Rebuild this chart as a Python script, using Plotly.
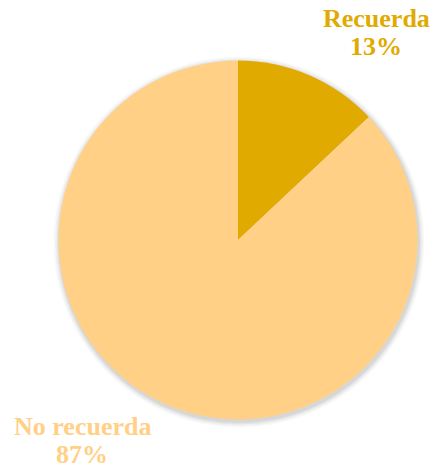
import plotly.graph_objects as go

# Share of respondents who remember / do not remember
labels = ["Recuerda", "No recuerda"]
values = [13, 87]
colors = ["#E0AA00", "#FFD086"]

W, H = 432, 470
cx, cy, r = 238, 240, 179.5  # pie centre and radius in pixels

fig = go.Figure(
    go.Pie(
        labels=labels,
        values=values,
        marker=dict(colors=colors, line=dict(width=0)),
        sort=False,
        direction="clockwise",
        rotation=0,
        textinfo="none",
        hoverinfo="label+percent",
        showlegend=False,
        domain=dict(
            x=[(cx - r) / W, (cx + r) / W],
            y=[(H - cy - r) / H, (H - cy + r) / H],
        ),
    )
)

# soft shadow around the disc
shapes = []
for grow, op in [(6, 0.025), (4.5, 0.035), (3, 0.045), (1.5, 0.06)]:
    dx, dy = 1, 2
    shapes.append(dict(
        type="circle", xref="paper", yref="paper", layer="below",
        x0=(cx + dx - r - grow) / W, x1=(cx + dx + r + grow) / W,
        y0=(H - cy - dy - r - grow) / H, y1=(H - cy - dy + r + grow) / H,
        fillcolor=f"rgba(0,0,0,{op})", line=dict(width=0),
    ))

total = sum(values)
label_pos = [(376, 29), (82, 437)]  # centre x, first-line baseline y
annotations = []
for lab, val, col, (lx, ly) in zip(labels, values, colors, label_pos):
    pct = round(100 * val / total)
    for k, line in enumerate([lab, f"{pct}%"]):
        annotations.append(dict(
            text=f"<b>{line}</b>", x=lx / W, y=(H - (ly + 28 * k)) / H,
            xref="paper", yref="paper", xanchor="center", yanchor="bottom",
            yshift=-6, showarrow=False,
            font=dict(family="Liberation Serif", size=26, color=col),
        ))

fig.update_layout(
    width=W, height=H,
    margin=dict(l=0, r=0, t=0, b=0),
    paper_bgcolor="white", plot_bgcolor="white",
    shapes=shapes, annotations=annotations,
)

fig.write_html("out.html")
